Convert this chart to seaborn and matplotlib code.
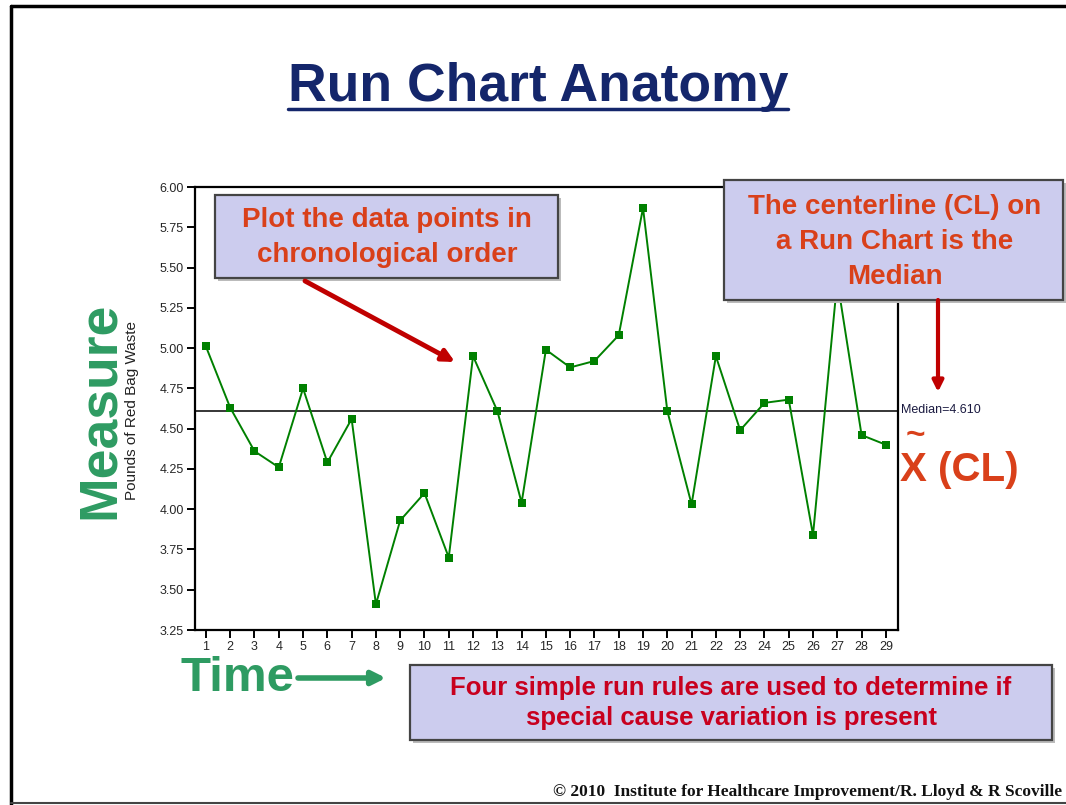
import matplotlib
matplotlib.use('Agg')
import matplotlib.pyplot as plt
from matplotlib.patches import Rectangle, FancyArrowPatch
from matplotlib.lines import Line2D
import seaborn as sns
import pandas as pd

# data
time_points = list(range(1, 30))
red_bag_waste = [5.01, 4.63, 4.36, 4.26, 4.75, 4.29, 4.56, 3.41, 3.93, 4.10,
                 3.70, 4.95, 4.61, 4.04, 4.99, 4.88, 4.92, 5.08, 5.87, 4.61,
                 4.03, 4.95, 4.49, 4.66, 4.68, 3.84, 5.42, 4.46, 4.40]
median_value = 4.61
y_ticks = [3.25, 3.50, 3.75, 4.00, 4.25, 4.50, 4.75, 5.00, 5.25, 5.50, 5.75, 6.00]

df = pd.DataFrame({'Time': time_points, 'Measure': red_bag_waste})

sns.set_style('ticks')
plt.rcParams['font.family'] = ['Liberation Sans', 'DejaVu Sans']

W, H = 1066, 805
fig = plt.figure(figsize=(W / 100, H / 100), dpi=100)
fig.patch.set_facecolor('white')


def px(x, y):
    # pixel position (from top-left) -> figure fraction
    return x / W, 1 - y / H


# axes placed in pixel space
ax_l, ax_r, ax_t, ax_b = 195, 898, 187, 630
ax = fig.add_axes([ax_l / W, 1 - ax_b / H, (ax_r - ax_l) / W, (ax_b - ax_t) / H])

sns.lineplot(data=df, x='Time', y='Measure', ax=ax, color='#008000', linewidth=1.4,
             marker='s', markersize=6, markeredgewidth=0, markerfacecolor='#008000')
ax.axhline(median_value, color='black', linewidth=1.1, zorder=1)

ax.set_xlim(0.55, 29.5)
ax.set_ylim(3.25, 6.0)
ax.set_xticks(time_points)
ax.set_xticklabels([str(t) for t in time_points], fontsize=9)
ax.set_yticks(y_ticks)
ax.set_yticklabels([f'{v:.2f}' for v in y_ticks], fontsize=9)
ax.tick_params(axis='both', direction='out', length=6, width=1.4, color='black', pad=2)
for s in ax.spines.values():
    s.set_visible(True)
    s.set_linewidth(1.6)
    s.set_color('black')
ax.set_xlabel('')
ax.set_ylabel('')

# slide border
fig.add_artist(Line2D([11 / W, 1], [1 - 6 / H, 1 - 6 / H], color='black', lw=2.5))
fig.add_artist(Line2D([11 / W, 11 / W], [1 - 6 / H, 0], color='black', lw=2.5))
fig.add_artist(Line2D([11 / W, 1], [1 - 803 / H, 1 - 803 / H], color='#444444', lw=1.5))

# title with underline
navy = '#14266b'
fig.text(*px(538, 87), 'Run Chart Anatomy', ha='center', va='center',
         fontsize=38.5, fontweight='bold', color=navy)
fig.add_artist(Line2D([288 / W, 788 / W], [1 - 109 / H, 1 - 109 / H], color=navy, lw=2.5))

green = '#2e9b62'
orange_red = '#d9401a'
box_fill = '#ccccee'


def callout(x0, y0, x1, y1, text, cx, cy, color, size=20, spacing=1.45):
    fig.add_artist(Rectangle(px(x0 + 3, y1 + 3), (x1 - x0) / W, (y1 - y0) / H,
                             facecolor='#bbbbbb', edgecolor='none'))
    fig.add_artist(Rectangle(px(x0, y1), (x1 - x0) / W, (y1 - y0) / H,
                             facecolor=box_fill, edgecolor='#444444', lw=1.6))
    fig.text(*px(cx, cy), text, ha='center', va='center', fontsize=size,
             fontweight='bold', color=color, linespacing=spacing)


def arrow(x0, y0, x1, y1, color, lw=3.5, head=18):
    fig.add_artist(FancyArrowPatch(px(x0, y0), px(x1, y1), arrowstyle='-|>',
                                   mutation_scale=head, color=color, lw=lw,
                                   shrinkA=0, shrinkB=0))


callout(215, 195, 558, 278, 'Plot the data points in\nchronological order', 387, 237, orange_red)
arrow(305, 281, 455, 362, '#c00000')

callout(724, 180, 1063, 300, 'The centerline (CL) on\na Run Chart is the\nMedian', 895, 242, orange_red)
arrow(938, 300, 938, 392, '#c00000', lw=3, head=16)

callout(410, 665, 1052, 740, 'Four simple run rules are used to determine if\nspecial cause variation is present',
        731, 703, '#c8001e', size=18.5, spacing=1.32)

# median label and CL marker
fig.text(*px(901, 410), 'Median=4.610', ha='left', va='center', fontsize=9, color='#1a1a40')
fig.text(*px(900, 470), 'X (CL)', ha='left', va='center', fontsize=29,
         fontweight='bold', color=orange_red)
fig.text(*px(915, 451), '~', ha='center', va='bottom', fontsize=24,
         fontweight='bold', color=orange_red)

# axis captions
fig.text(*px(100, 410), 'Measure', rotation=90, ha='center', va='center',
         fontsize=38.5, fontweight='bold', color=green)
fig.text(*px(132, 410), 'Pounds of Red Bag Waste', rotation=90, ha='center', va='center',
         fontsize=11, color='#222222')
fig.text(*px(237, 678), 'Time', ha='center', va='center',
         fontsize=35.5, fontweight='bold', color=green)
arrow(298, 678, 386, 678, green, lw=4, head=20)

fig.text(*px(1062, 792), '\u00a9 2010  Institute for Healthcare Improvement/R. Lloyd & R Scoville',
         ha='right', va='center', fontsize=12.5, fontweight='bold', color='#111111',
         family=['Liberation Serif', 'DejaVu Serif'])

fig.savefig('out.png', dpi=100, facecolor='white')
